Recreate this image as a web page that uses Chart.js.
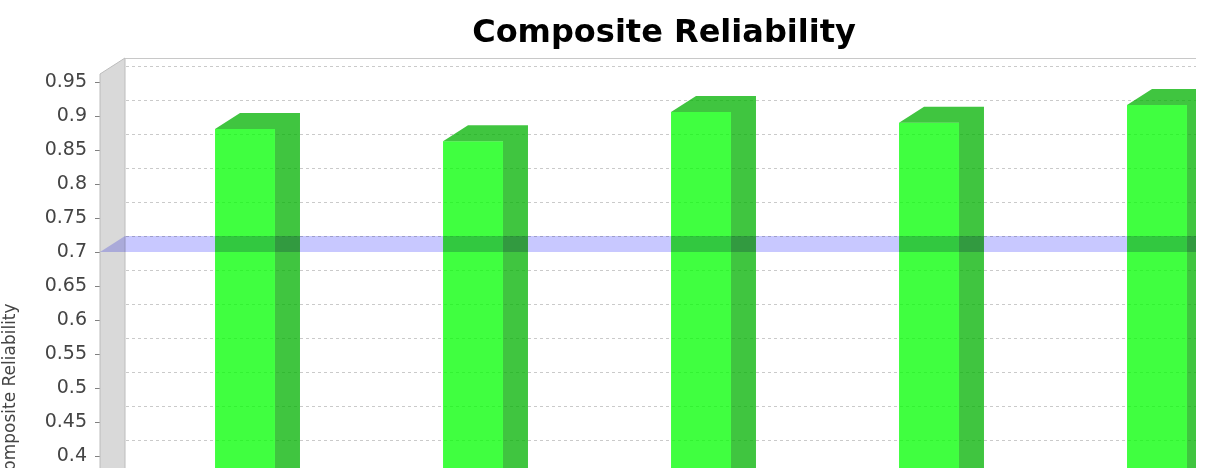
<!DOCTYPE html>
<html>
<head>
<meta charset="utf-8">
<title>Composite Reliability</title>
<script src="https://cdn.jsdelivr.net/npm/chart.js@4.4.1/dist/chart.umd.min.js"></script>
<style>
    html, body { margin: 0; padding: 0; background: #fff; }
    #frame { width: 1196px; height: 468px; overflow: hidden; }
</style>
</head>
<body>
<div id="frame"><canvas id="crChart" width="1328" height="760"></canvas></div>
<script>
// values (x labels are cut off in the picture)
const constructs = ['Construct 1', 'Construct 2', 'Construct 3', 'Construct 4', 'Construct 5'];
const compositeReliability = [0.881, 0.863, 0.906, 0.890, 0.916];
const threshold = 0.7;
const tickStep = 0.05;

// 3D look: offset of the back plane from the front plane
const depthX = 25;
const depthY = -16;

document.addEventListener('DOMContentLoaded', function() {
    const ctx = document.getElementById('crChart').getContext('2d');

    const box3d = {
        id: 'box3d',
        beforeDatasetsDraw(chart) {
            const c = chart.ctx;
            const a = chart.chartArea;
            const y = chart.scales.y;
            c.save();
            // left wall
            c.beginPath();
            c.moveTo(a.left, a.top - depthY);
            c.lineTo(a.left + depthX, a.top);
            c.lineTo(a.left + depthX, a.bottom + depthY);
            c.lineTo(a.left, a.bottom);
            c.closePath();
            c.fillStyle = '#d9d9d9';
            c.fill();
            c.strokeStyle = '#bcbcbc';
            c.lineWidth = 1;
            c.stroke();
            // top edge of the back plane
            c.beginPath();
            c.moveTo(a.left + depthX, a.top + 0.5);
            c.lineTo(a.right + depthX, a.top + 0.5);
            c.strokeStyle = '#c8c8c8';
            c.stroke();
            // dashed gridlines on the back plane
            c.setLineDash([3, 3]);
            c.strokeStyle = '#cacaca';
            y.ticks.forEach(t => {
                if (t.value === 0) return;
                const py = Math.round(y.getPixelForValue(t.value) + depthY) + 0.5;
                c.beginPath();
                c.moveTo(a.left + depthX + 1, py);
                c.lineTo(a.right + depthX, py);
                c.stroke();
            });
            c.restore();
        },
        afterDatasetsDraw(chart) {
            const c = chart.ctx;
            const a = chart.chartArea;
            const y = chart.scales.y;
            c.save();
            // top and side faces of each bar
            chart.getDatasetMeta(0).data.forEach(bar => {
                const p = bar.getProps(['x', 'y', 'base', 'width'], true);
                const l = p.x - p.width / 2;
                const r = p.x + p.width / 2;
                c.beginPath();
                c.moveTo(l, p.y);
                c.lineTo(l + depthX, p.y + depthY);
                c.lineTo(r + depthX, p.y + depthY);
                c.lineTo(r + depthX, p.base + depthY);
                c.lineTo(r, p.base);
                c.lineTo(r, p.y);
                c.closePath();
                c.fillStyle = 'rgba(0, 178, 0, 0.75)';
                c.fill();
            });
            // threshold marker band
            const y0 = y.getPixelForValue(threshold);
            c.globalCompositeOperation = 'multiply';
            c.beginPath();
            c.moveTo(a.left, y0);
            c.lineTo(a.left + depthX, y0 + depthY);
            c.lineTo(a.right + depthX, y0 + depthY);
            c.lineTo(a.right, y0);
            c.closePath();
            c.fillStyle = '#c8c8ff';
            c.fill();
            c.restore();
        }
    };

    new Chart(ctx, {
        type: 'bar',
        data: {
            datasets: [{
                label: 'Composite Reliability',
                data: constructs.map((name, i) => ({ x: i, y: compositeReliability[i] })),
                backgroundColor: 'rgba(0, 255, 0, 0.75)',
                borderWidth: 0,
                categoryPercentage: 1,
                barPercentage: 0.263
            }]
        },
        options: {
            responsive: false,
            animation: false,
            devicePixelRatio: 1,
            layout: { padding: { top: 0, left: 0, right: 0, bottom: 32 } },
            plugins: {
                legend: { display: false },
                tooltip: {
                    callbacks: { title: items => constructs[items[0].raw.x] }
                },
                title: {
                    display: true,
                    text: 'Composite Reliability',
                    color: '#000',
                    font: { family: 'DejaVu Sans', size: 32, weight: 'bold', lineHeight: 1.2 },
                    padding: { top: 14.8, bottom: 4.8 }
                }
            },
            scales: {
                x: {
                    type: 'linear',
                    display: false,
                    offset: false,
                    min: -0.636,
                    max: 4.75,
                    ticks: {
                        stepSize: 1,
                        includeBounds: false,
                        callback: v => constructs[v]
                    }
                },
                y: {
                    min: 0,
                    max: 0.9853,
                    afterFit: scale => { scale.width = 100; },
                    border: { display: false },
                    grid: { drawOnChartArea: false, drawTicks: true, tickLength: 5, tickColor: '#808080' },
                    ticks: {
                        stepSize: tickStep,
                        includeBounds: false,
                        autoSkip: false,
                        padding: 8,
                        color: '#444',
                        font: { family: 'DejaVu Sans', size: 19 },
                        callback: v => String(+v.toFixed(2))
                    },
                    title: {
                        display: true,
                        text: 'Composite Reliability',
                        color: '#444',
                        font: { family: 'DejaVu Sans', size: 17 },
                        padding: 0
                    }
                }
            }
        },
        plugins: [box3d]
    });
});
</script>
</body>
</html>
